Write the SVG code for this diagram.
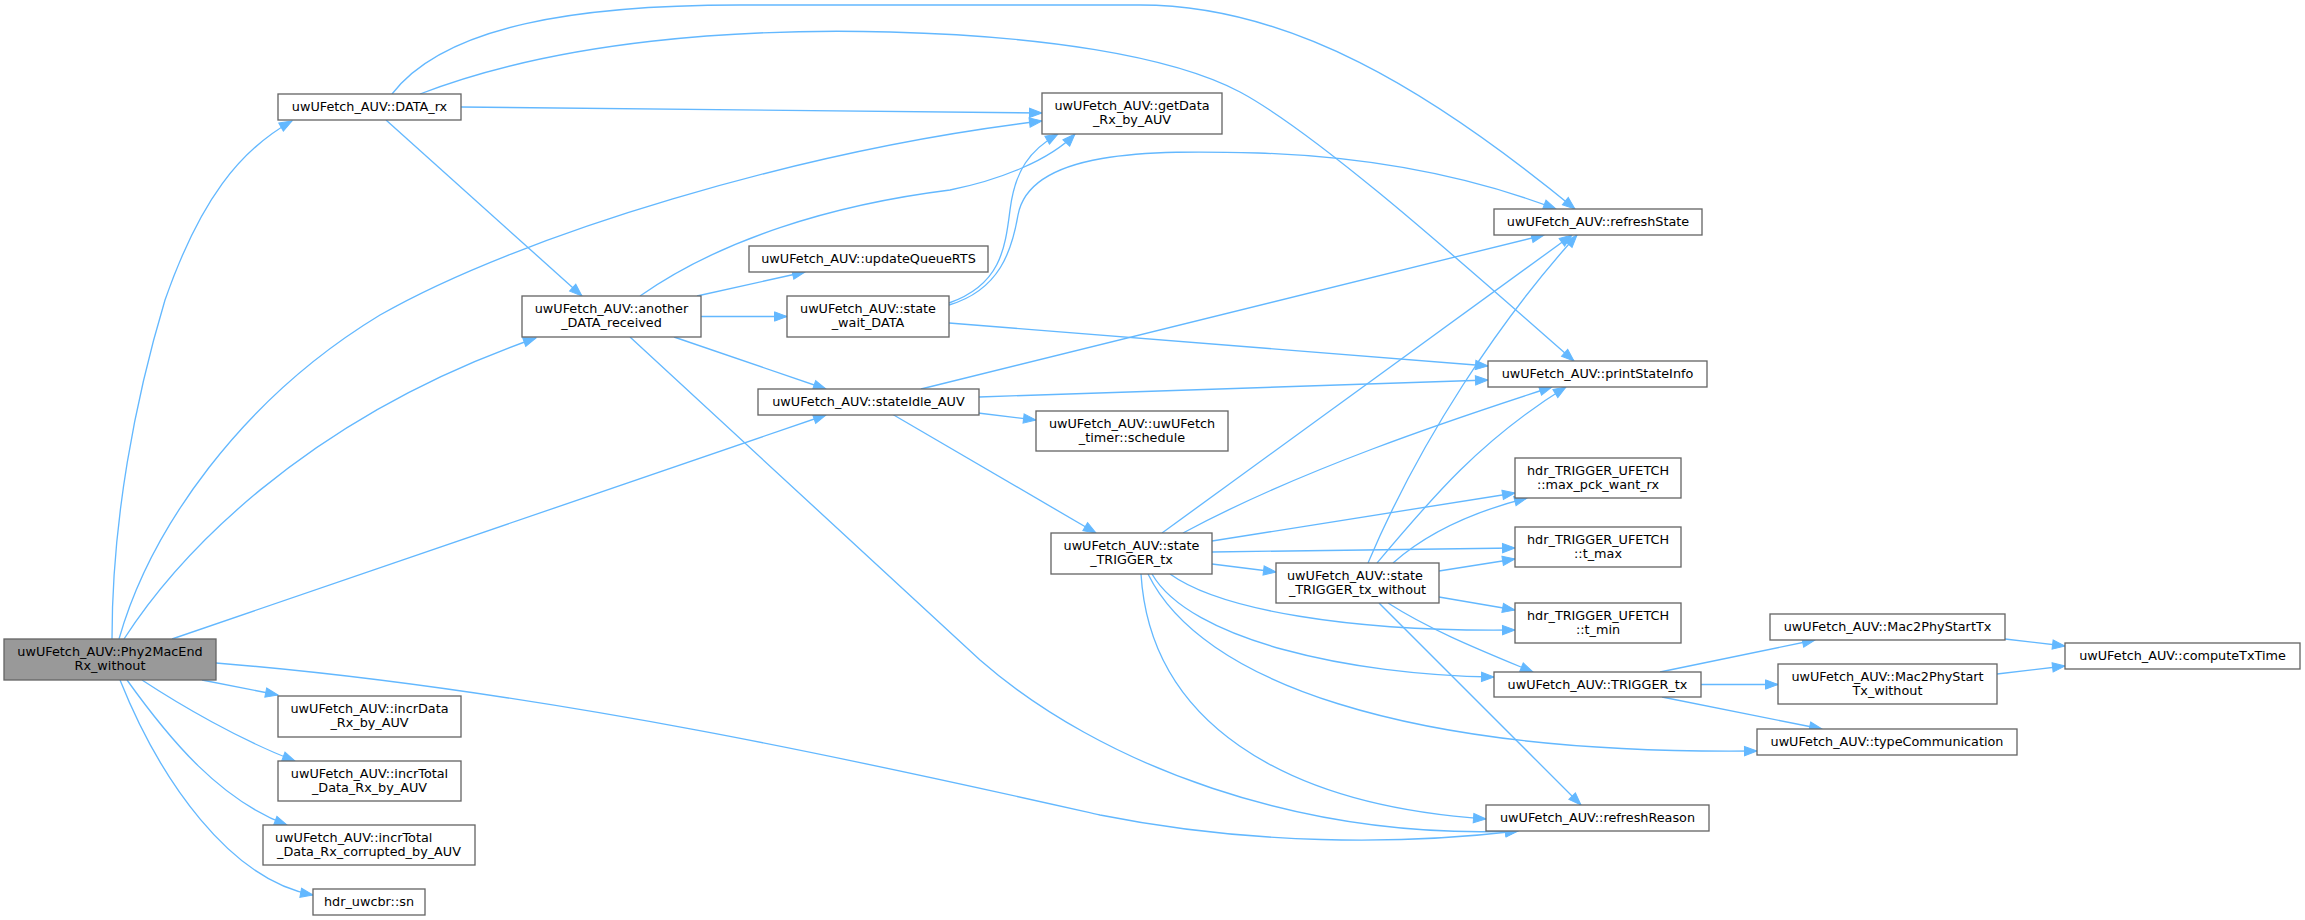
<svg xmlns="http://www.w3.org/2000/svg" width="2305" height="920" viewBox="0 0 2305 920">
<defs>
<style>
.n rect{fill:#fff;stroke:#666;stroke-width:1.33}
.root rect{fill:#999}
text{font-family:"DejaVu Sans","Liberation Sans",sans-serif;font-size:12.8px;fill:#000;text-anchor:middle}
text.s{text-anchor:start}
.e path{fill:none;stroke:#63b8ff;stroke-width:1.33;marker-end:url(#a)}
</style>
<marker id="a" markerWidth="14" markerHeight="11" refX="12.5" refY="4.65" orient="auto" markerUnits="userSpaceOnUse" overflow="visible">
<path d="M0,0 L12.5,4.65 L0,9.3 z" fill="#63b8ff" stroke="#63b8ff" stroke-width="1"/>
</marker>
</defs>
<rect width="2305" height="920" fill="#fff"/>
<g id="edges" class="e">
<path d="M112,639 C112,520 135,400 165,300 C200,200 240,150 292,121"/>
<path d="M119,639 C150,530 240,400 380,315 C520,235 800,150 1042,121"/>
<path d="M124,639 C175,560 300,420 536,338"/>
<path d="M172,639 L826,415"/>
<path d="M216,663 C550,690 900,770 1100,815 C1250,845 1400,845 1518,831"/>
<path d="M202,680 L278,695"/>
<path d="M142,680 C180,705 240,740 295,761"/>
<path d="M127,680 C170,740 220,800 287,825"/>
<path d="M120,680 C160,780 230,880 313,895"/>
<path d="M461,107 L1042,113"/>
<path d="M386,120 L582,296"/>
<path d="M392,94 C445,25 580,5 740,5 L1140,5 C1290,5 1430,90 1575,209"/>
<path d="M420,94 C560,40 740,28 890,32 C1040,36 1170,55 1240,92 C1320,135 1470,270 1574,361"/>
<path d="M640,296 C720,240 830,205 950,190 C1000,180 1050,160 1075,134"/>
<path d="M697,296 L805,272"/>
<path d="M701,316.5 L787,316.5"/>
<path d="M674,337 L826,389"/>
<path d="M630,337 L980,660 C1100,765 1300,840 1518,831"/>
<path d="M949,303 C1000,285 1005,250 1010,210 C1015,170 1030,150 1058,134"/>
<path d="M949,305 C1000,290 1012,250 1018,215 C1030,150 1150,150 1258,153 C1380,157 1480,180 1556,209"/>
<path d="M949,323 L1488,366"/>
<path d="M921,389 L1544,235"/>
<path d="M979,397 L1488,380"/>
<path d="M978,413 L1036,420"/>
<path d="M892,414 L1096,533"/>
<path d="M1162,533 L1572,235"/>
<path d="M1183,533 C1300,470 1450,420 1552,387"/>
<path d="M1212,541 L1515,493"/>
<path d="M1212,552 L1515,548"/>
<path d="M1212,564 L1276,572"/>
<path d="M1170,574 C1220,610 1350,632 1515,630"/>
<path d="M1152,574 C1190,640 1350,675 1494,677"/>
<path d="M1148,574 C1200,680 1400,755 1757,751"/>
<path d="M1141,574 C1150,720 1280,805 1486,819"/>
<path d="M1368,563 C1420,440 1500,320 1577,235"/>
<path d="M1377,563 C1430,500 1480,440 1566,387"/>
<path d="M1393,563 C1430,530 1480,510 1527,498"/>
<path d="M1439,571 L1515,559"/>
<path d="M1439,597 L1515,610"/>
<path d="M1388,603 C1430,630 1480,650 1533,672"/>
<path d="M1379,603 L1581,805"/>
<path d="M1660,672 L1815,640"/>
<path d="M1701,684.5 L1778,684.5"/>
<path d="M1662,697 L1822,729"/>
<path d="M2005,639 L2065,646"/>
<path d="M1997,674 L2065,666"/>
</g>
<g id="n_root" class="n root"><rect x="4" y="639" width="212" height="41"/><text x="110" y="655.8">uwUFetch_AUV::Phy2MacEnd</text><text x="110" y="670.3">Rx_without</text></g>
<g id="n_DATA_rx" class="n"><rect x="278" y="94" width="183" height="26"/><text x="369.5" y="111">uwUFetch_AUV::DATA_rx</text></g>
<g id="n_another" class="n"><rect x="522" y="296" width="179" height="41"/><text x="611.5" y="312.8">uwUFetch_AUV::another</text><text x="611.5" y="327.3">_DATA_received</text></g>
<g id="n_incrData" class="n"><rect x="278" y="696" width="183" height="41"/><text x="369.5" y="712.8">uwUFetch_AUV::incrData</text><text x="369.5" y="727.3">_Rx_by_AUV</text></g>
<g id="n_incrTotal" class="n"><rect x="278" y="761" width="183" height="40"/><text x="369.5" y="777.8">uwUFetch_AUV::incrTotal</text><text x="369.5" y="792.3">_Data_Rx_by_AUV</text></g>
<g id="n_incrTotalCorrupted" class="n"><rect x="263" y="825" width="212" height="40"/><text class="s" x="275" y="841.8">uwUFetch_AUV::incrTotal</text><text x="369" y="856.3">_Data_Rx_corrupted_by_AUV</text></g>
<g id="n_sn" class="n"><rect x="313" y="889" width="112" height="26"/><text x="369" y="906">hdr_uwcbr::sn</text></g>
<g id="n_getData" class="n"><rect x="1042" y="93" width="180" height="41"/><text x="1132" y="109.8">uwUFetch_AUV::getData</text><text x="1132" y="124.3">_Rx_by_AUV</text></g>
<g id="n_updateQueueRTS" class="n"><rect x="749" y="246" width="239" height="26"/><text x="868.5" y="263">uwUFetch_AUV::updateQueueRTS</text></g>
<g id="n_state_wait_DATA" class="n"><rect x="787" y="296" width="162" height="41"/><text x="868" y="312.8">uwUFetch_AUV::state</text><text x="868" y="327.3">_wait_DATA</text></g>
<g id="n_stateIdle" class="n"><rect x="758" y="389" width="221" height="26"/><text x="868.5" y="406">uwUFetch_AUV::stateIdle_AUV</text></g>
<g id="n_refreshState" class="n"><rect x="1494" y="209" width="208" height="26"/><text x="1598" y="226">uwUFetch_AUV::refreshState</text></g>
<g id="n_printStateInfo" class="n"><rect x="1488" y="361" width="219" height="26"/><text x="1597.5" y="378">uwUFetch_AUV::printStateInfo</text></g>
<g id="n_schedule" class="n"><rect x="1036" y="411" width="192" height="40"/><text x="1132" y="427.8">uwUFetch_AUV::uwUFetch</text><text x="1132" y="442.3">_timer::schedule</text></g>
<g id="n_state_TRIGGER_tx" class="n"><rect x="1051" y="533" width="161" height="41"/><text x="1131.5" y="549.8">uwUFetch_AUV::state</text><text x="1131.5" y="564.3">_TRIGGER_tx</text></g>
<g id="n_state_TRIGGER_tx_without" class="n"><rect x="1276" y="563" width="163" height="40"/><text class="s" x="1287" y="579.8">uwUFetch_AUV::state</text><text x="1357.5" y="594.3">_TRIGGER_tx_without</text></g>
<g id="n_max_pck" class="n"><rect x="1515" y="458" width="166" height="40"/><text x="1598" y="474.8">hdr_TRIGGER_UFETCH</text><text x="1598" y="489.3">::max_pck_want_rx</text></g>
<g id="n_t_max" class="n"><rect x="1515" y="527" width="166" height="40"/><text x="1598" y="543.8">hdr_TRIGGER_UFETCH</text><text x="1598" y="558.3">::t_max</text></g>
<g id="n_t_min" class="n"><rect x="1515" y="603" width="166" height="40"/><text x="1598" y="619.8">hdr_TRIGGER_UFETCH</text><text x="1598" y="634.3">::t_min</text></g>
<g id="n_TRIGGER_tx" class="n"><rect x="1494" y="672" width="207" height="25"/><text x="1597.5" y="689">uwUFetch_AUV::TRIGGER_tx</text></g>
<g id="n_Mac2PhyStartTx" class="n"><rect x="1770" y="614" width="235" height="26"/><text x="1887.5" y="631">uwUFetch_AUV::Mac2PhyStartTx</text></g>
<g id="n_Mac2PhyStartTx_without" class="n"><rect x="1778" y="664" width="219" height="40"/><text x="1887.5" y="680.8">uwUFetch_AUV::Mac2PhyStart</text><text x="1887.5" y="695.3">Tx_without</text></g>
<g id="n_typeCommunication" class="n"><rect x="1757" y="729" width="260" height="26"/><text x="1887" y="746">uwUFetch_AUV::typeCommunication</text></g>
<g id="n_computeTxTime" class="n"><rect x="2065" y="643" width="235" height="26"/><text x="2182.5" y="660">uwUFetch_AUV::computeTxTime</text></g>
<g id="n_refreshReason" class="n"><rect x="1486" y="805" width="223" height="26"/><text x="1597.5" y="822">uwUFetch_AUV::refreshReason</text></g>
</svg>
